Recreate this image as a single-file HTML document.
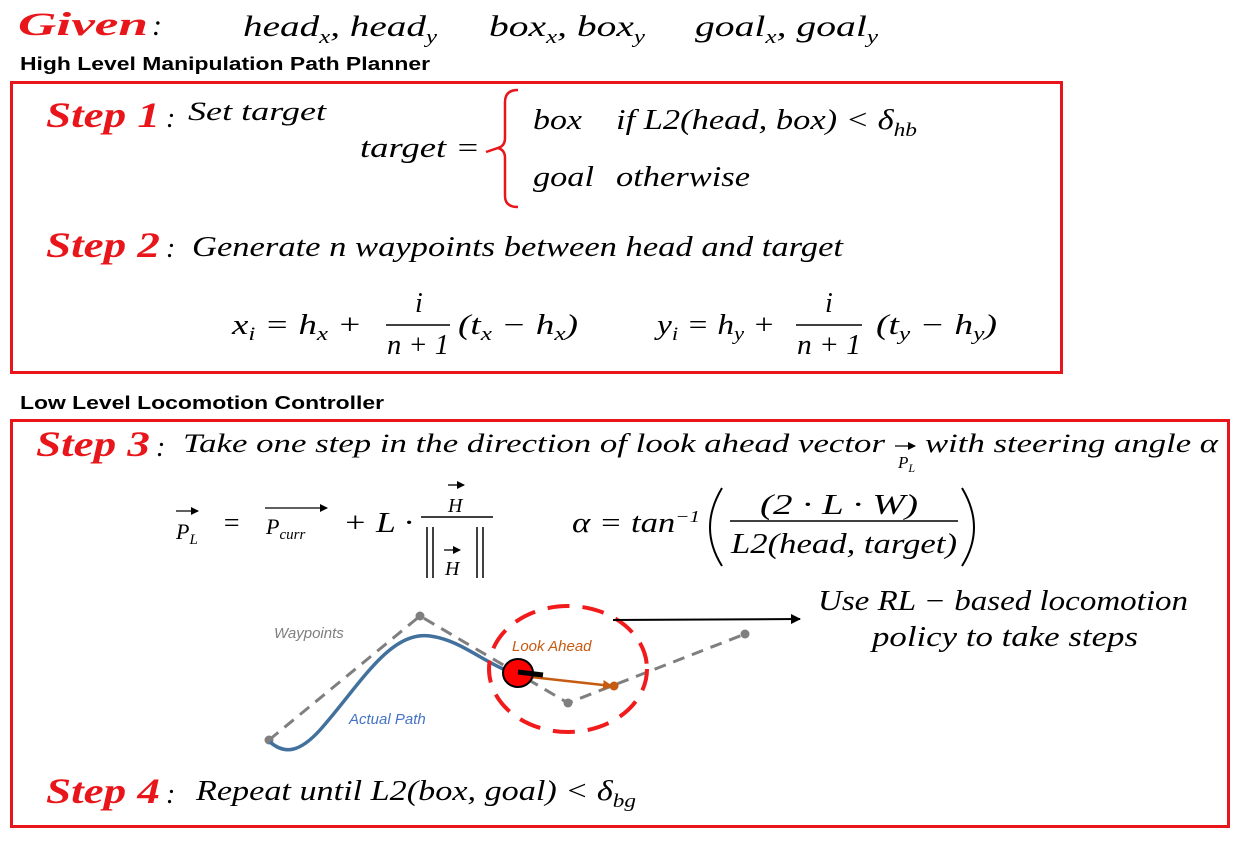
<!DOCTYPE html>
<html><head><meta charset="utf-8"><style>
html,body{margin:0;padding:0;background:#fff;width:1242px;height:844px;overflow:hidden}
svg text{font-family:"Liberation Serif",serif}
.m{font-style:italic;font-size:28px;fill:#000}
.st{font-style:italic;font-weight:bold;font-size:36px;fill:#e8161b}
.h{font-family:"Liberation Sans",sans-serif;font-weight:bold;font-size:18px;fill:#000}
.sub{font-size:19px}
</style></head><body>
<svg width="1242" height="844" viewBox="0 0 1242 844" xmlns="http://www.w3.org/2000/svg">
<defs>
<marker id="ab" markerWidth="10" markerHeight="10" refX="9" refY="5" orient="auto" markerUnits="userSpaceOnUse"><path d="M0,0 L10,5 L0,10 Z" fill="#000"/></marker>
<marker id="ao" markerWidth="10" markerHeight="10" refX="9" refY="5" orient="auto" markerUnits="userSpaceOnUse"><path d="M0,0 L10,5 L0,10 Z" fill="#c55a11"/></marker>
<marker id="ar" markerWidth="8" markerHeight="8" refX="7" refY="4" orient="auto" markerUnits="userSpaceOnUse"><path d="M0,0 L8,4 L0,8 Z" fill="#000"/></marker>
</defs>

<text x="18" y="35" class="st" style="font-size:33px" textLength="130" lengthAdjust="spacingAndGlyphs">Given</text><text x="152" y="35" class="m" style="font-size:30px">:</text>
<text x="243" y="36" class="m" style="font-size:30px" textLength="194" lengthAdjust="spacingAndGlyphs">head<tspan class="sub" dy="7">x</tspan><tspan dy="-7">, head</tspan><tspan class="sub" dy="7">y</tspan></text>
<text x="489" y="36" class="m" style="font-size:30px" textLength="156" lengthAdjust="spacingAndGlyphs">box<tspan class="sub" dy="7">x</tspan><tspan dy="-7">, box</tspan><tspan class="sub" dy="7">y</tspan></text>
<text x="695" y="36" class="m" style="font-size:30px" textLength="183" lengthAdjust="spacingAndGlyphs">goal<tspan class="sub" dy="7">x</tspan><tspan dy="-7">, goal</tspan><tspan class="sub" dy="7">y</tspan></text>

<text x="20" y="70" class="h" textLength="410" lengthAdjust="spacingAndGlyphs">High Level Manipulation Path Planner</text>
<rect x="11.5" y="82.5" width="1050" height="290" fill="none" stroke="#e8161b" stroke-width="3"/>

<text x="46" y="127" class="st" textLength="114" lengthAdjust="spacingAndGlyphs">Step 1</text><text x="166" y="127" class="m">:</text>
<text x="188" y="120" class="m" style="font-size:26px" textLength="138" lengthAdjust="spacingAndGlyphs">Set target</text>
<text x="360" y="157" class="m" textLength="120" lengthAdjust="spacingAndGlyphs">target =</text>
<path d="M486,152 L498,148 Q505,146 505,138 L505,102 Q505,90 518,90 M498,148 Q505,150 505,158 L505,196 Q505,207 518,207" fill="none" stroke="#e8161b" stroke-width="2.5"/>
<text x="533" y="129" class="m" textLength="49" lengthAdjust="spacingAndGlyphs">box</text>
<text x="616" y="129" class="m" textLength="301" lengthAdjust="spacingAndGlyphs">if L2(head, box) &lt; δ<tspan class="sub" dy="7">hb</tspan></text>
<text x="533" y="186" class="m" textLength="61" lengthAdjust="spacingAndGlyphs">goal</text>
<text x="616" y="186" class="m" textLength="134" lengthAdjust="spacingAndGlyphs">otherwise</text>

<text x="46" y="257" class="st" textLength="114" lengthAdjust="spacingAndGlyphs">Step 2</text><text x="166" y="257" class="m">:</text>
<text x="192" y="256" class="m" textLength="651" lengthAdjust="spacingAndGlyphs">Generate n waypoints between head and target</text>

<text x="232" y="334" class="m" textLength="130" lengthAdjust="spacingAndGlyphs">x<tspan class="sub" dy="6">i</tspan><tspan dy="-6"> = h</tspan><tspan class="sub" dy="6">x</tspan><tspan dy="-6"> +</tspan></text>
<text x="415" y="312" class="m">i</text>
<line x1="386" y1="325" x2="450" y2="325" stroke="#000" stroke-width="1.5"/>
<text x="387" y="354" class="m" textLength="62" lengthAdjust="spacingAndGlyphs">n + 1</text>
<text x="458" y="334" class="m" textLength="120" lengthAdjust="spacingAndGlyphs">(t<tspan class="sub" dy="6">x</tspan><tspan dy="-6"> − h</tspan><tspan class="sub" dy="6">x</tspan><tspan dy="-6">)</tspan></text>

<text x="657" y="334" class="m" textLength="118" lengthAdjust="spacingAndGlyphs">y<tspan class="sub" dy="6">i</tspan><tspan dy="-6"> = h</tspan><tspan class="sub" dy="6">y</tspan><tspan dy="-6"> +</tspan></text>
<text x="825" y="312" class="m">i</text>
<line x1="796" y1="325" x2="862" y2="325" stroke="#000" stroke-width="1.5"/>
<text x="797" y="354" class="m" textLength="64" lengthAdjust="spacingAndGlyphs">n + 1</text>
<text x="876" y="334" class="m" textLength="121" lengthAdjust="spacingAndGlyphs">(t<tspan class="sub" dy="6">y</tspan><tspan dy="-6"> − h</tspan><tspan class="sub" dy="6">y</tspan><tspan dy="-6">)</tspan></text>

<text x="20" y="409" class="h" textLength="364" lengthAdjust="spacingAndGlyphs">Low Level Locomotion  Controller</text>
<rect x="11.5" y="420.5" width="1217" height="406" fill="none" stroke="#e8161b" stroke-width="3"/>

<text x="36" y="456" class="st" textLength="114" lengthAdjust="spacingAndGlyphs">Step 3</text><text x="156" y="456" class="m">:</text>
<text x="183" y="452" class="m" style="font-size:26px" textLength="702" lengthAdjust="spacingAndGlyphs">Take one step in the direction of look ahead vector</text>
<line x1="895" y1="446" x2="915" y2="446" stroke="#000" stroke-width="1.3" marker-end="url(#ar)"/>
<text x="898" y="468" class="m" style="font-size:17px">P<tspan style="font-size:12px" dy="4">L</tspan></text>
<text x="925" y="452" class="m" style="font-size:26px" textLength="293" lengthAdjust="spacingAndGlyphs">with steering angle α</text>

<line x1="176" y1="511" x2="198" y2="511" stroke="#000" stroke-width="1.3" marker-end="url(#ar)"/>
<text x="176" y="539" class="m" style="font-size:22px">P<tspan style="font-size:15px" dy="5">L</tspan></text>
<text x="222" y="532" class="m">=</text>
<line x1="265" y1="508" x2="327" y2="508" stroke="#000" stroke-width="1.3" marker-end="url(#ar)"/>
<text x="266" y="534" class="m" style="font-size:22px">P<tspan style="font-size:15px" dy="5">curr</tspan></text>
<text x="343" y="532" class="m" textLength="70" lengthAdjust="spacingAndGlyphs">+ L ·</text>
<line x1="448" y1="485" x2="464" y2="485" stroke="#000" stroke-width="1.3" marker-end="url(#ar)"/>
<text x="448" y="512" class="m" style="font-size:20px">H</text>
<line x1="421" y1="517" x2="493" y2="517" stroke="#000" stroke-width="1.5"/>
<path d="M427,527 V578 M433,527 V578 M477,527 V578 M483,527 V578" stroke="#000" stroke-width="1.5"/>
<line x1="444" y1="550" x2="460" y2="550" stroke="#000" stroke-width="1.3" marker-end="url(#ar)"/>
<text x="445" y="575" class="m" style="font-size:20px">H</text>

<text x="572" y="532" class="m" textLength="128" lengthAdjust="spacingAndGlyphs">α = tan<tspan style="font-size:17px" dy="-10">−1</tspan></text>
<path d="M722,488 Q698,528 722,566" fill="none" stroke="#000" stroke-width="2"/>
<text x="760" y="514" class="m" textLength="158" lengthAdjust="spacingAndGlyphs">(2 · L · W)</text>
<line x1="730" y1="521" x2="958" y2="521" stroke="#000" stroke-width="1.5"/>
<text x="731" y="553" class="m" textLength="226" lengthAdjust="spacingAndGlyphs">L2(head, target)</text>
<path d="M962,488 Q986,528 962,566" fill="none" stroke="#000" stroke-width="2"/>

<polyline points="269,740 420,616 568,703 745,634" fill="none" stroke="#7f7f7f" stroke-width="3" stroke-dasharray="12,8"/>
<circle cx="269" cy="740" r="4.5" fill="#7f7f7f"/><circle cx="420" cy="616" r="4.5" fill="#7f7f7f"/>
<circle cx="568" cy="703" r="4.5" fill="#7f7f7f"/><circle cx="745" cy="634" r="4.5" fill="#7f7f7f"/>
<path d="M270,742 C285,755 300,752 320,730 C360,685 390,630 430,636 C460,640 480,660 510,672" fill="none" stroke="#41719c" stroke-width="3.5"/>
<text x="274" y="638" font-size="15" font-style="italic" fill="#7f7f7f" style="font-family:'Liberation Sans',sans-serif">Waypoints</text>
<text x="349" y="724" font-size="15" font-style="italic" fill="#4472c4" style="font-family:'Liberation Sans',sans-serif">Actual Path</text>
<text x="512" y="651" font-size="15" font-style="italic" fill="#c55a11" style="font-family:'Liberation Sans',sans-serif">Look Ahead</text>
<ellipse cx="568" cy="669" rx="79" ry="63" fill="none" stroke="#f21b1b" stroke-width="4" stroke-dasharray="22,13"/>
<line x1="522" y1="676" x2="612" y2="686" stroke="#c55a11" stroke-width="2.5" marker-end="url(#ao)"/>
<circle cx="614" cy="686" r="4.5" fill="#c55a11"/>
<ellipse cx="518" cy="673" rx="15" ry="14" fill="#ff0000" stroke="#000" stroke-width="2"/>
<line x1="518" y1="672" x2="543" y2="675" stroke="#000" stroke-width="5"/>
<line x1="613" y1="620" x2="800" y2="619" stroke="#000" stroke-width="2" marker-end="url(#ab)"/>
<text x="818" y="610" class="m" textLength="370" lengthAdjust="spacingAndGlyphs">Use RL − based locomotion</text>
<text x="872" y="646" class="m" textLength="266" lengthAdjust="spacingAndGlyphs">policy to take steps</text>

<text x="46" y="803" class="st" textLength="114" lengthAdjust="spacingAndGlyphs">Step 4</text><text x="166" y="803" class="m">:</text>
<text x="196" y="800" class="m" textLength="440" lengthAdjust="spacingAndGlyphs">Repeat until L2(box, goal) &lt; δ<tspan class="sub" dy="7">bg</tspan></text>
</svg>
</body></html>
